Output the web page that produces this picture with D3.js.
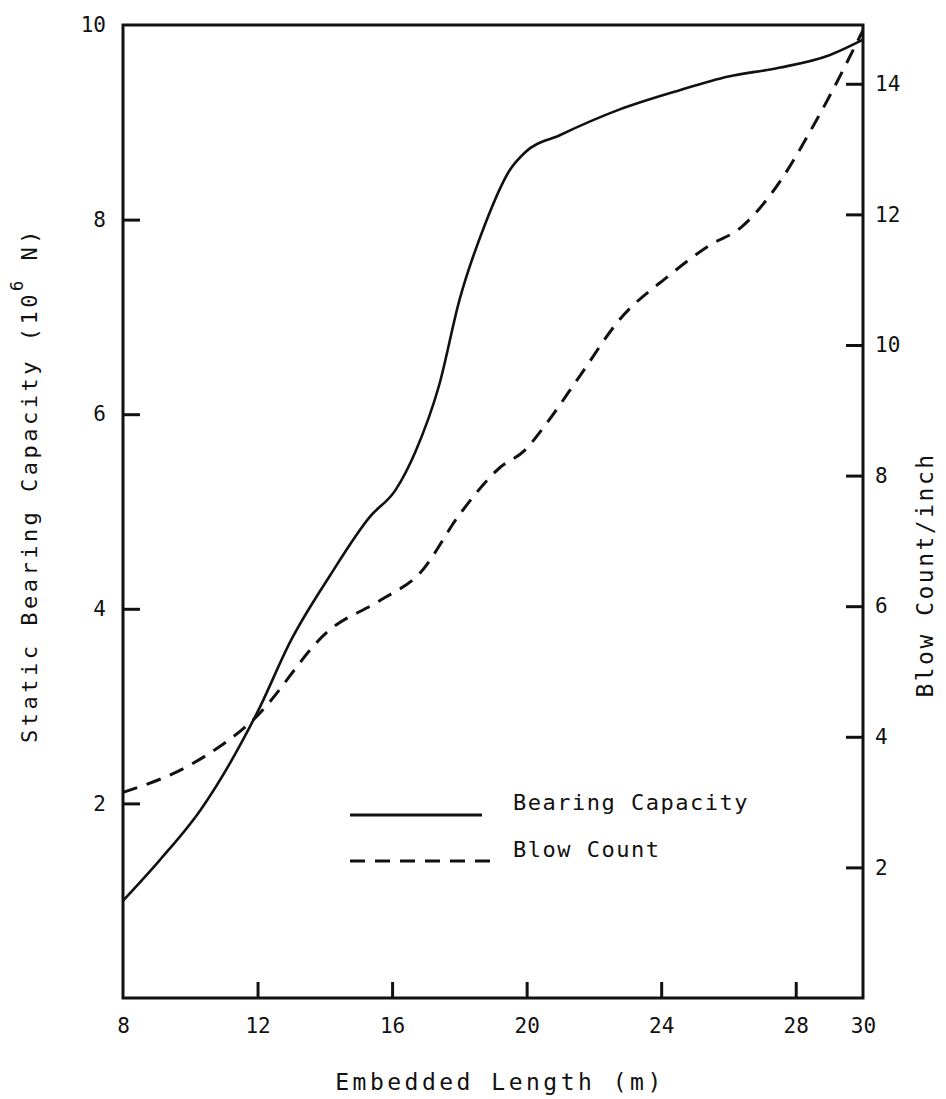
<!DOCTYPE html>
<html>
<head>
<meta charset="utf-8">
<script src="https://cdn.jsdelivr.net/npm/d3@7"></script>
<style>
  body { margin: 0; background: #fff; }
  text { font-family: "DejaVu Sans Mono", monospace; fill: #111; }
</style>
</head>
<body>
<div id="chart"></div>
<script>
// embedded length (m) and static bearing capacity (10^6 N)
const capLength = [8, 9.1, 10.3, 12, 13, 14.15, 15.35, 16.1, 16.7, 17.4, 18, 18.75, 19.5, 19.95, 21, 22.75, 24.55, 26, 27.5, 29, 30];
const capacity  = [1.0, 1.42, 1.93, 2.94, 3.68, 4.34, 4.95, 5.22, 5.62, 6.3, 7.17, 7.94, 8.51, 8.69, 8.87, 9.13, 9.33, 9.47, 9.56, 9.69, 9.85];

// embedded length (m) and blow count per inch
const blowLength = [8, 10, 11.87, 14.15, 15.65, 16.85, 18, 19.2, 19.95, 20.55, 21.6, 22.75, 24.25, 25.45, 26.35, 27.25, 28.7, 30];
const blowCount  = [3.15, 3.57, 4.26, 5.64, 6.09, 6.52, 7.4, 8.12, 8.39, 8.77, 9.54, 10.38, 11.07, 11.53, 11.79, 12.3, 13.52, 14.82];

const xTicks = [8, 12, 16, 20, 24, 28, 30];
const leftTicks = [2, 4, 6, 8, 10];
const rightTicks = [2, 4, 6, 8, 10, 12, 14];

const width = 946, height = 1099;
const margin = {top: 25, right: 83, bottom: 101, left: 123};

const svg = d3.select("#chart").append("svg")
    .attr("width", width)
    .attr("height", height);

const x = d3.scaleLinear().domain([8, 30]).range([margin.left, width - margin.right]);
const yLeft = d3.scaleLinear().domain([0, 10]).range([height - margin.bottom, margin.top]);
const yRight = d3.scaleLinear().domain([0, 14.9]).range([height - margin.bottom, margin.top]);

// frame
svg.append("rect")
    .attr("x", margin.left)
    .attr("y", margin.top)
    .attr("width", width - margin.left - margin.right)
    .attr("height", height - margin.bottom - margin.top)
    .attr("fill", "none")
    .attr("stroke", "#111")
    .attr("stroke-width", 3);

// axes, ticks pointing into the plot
const xAxis = svg.append("g")
    .attr("transform", "translate(0," + (height - margin.bottom) + ")")
    .call(d3.axisBottom(x).tickValues(xTicks).tickSize(-16).tickPadding(20).tickFormat(d3.format("d")));

const leftAxis = svg.append("g")
    .attr("transform", "translate(" + margin.left + ",0)")
    .call(d3.axisLeft(yLeft).tickValues(leftTicks).tickSize(-17).tickPadding(17).tickFormat(d3.format("d")));

const rightAxis = svg.append("g")
    .attr("transform", "translate(" + (width - margin.right) + ",0)")
    .call(d3.axisRight(yRight).tickValues(rightTicks).tickSize(-17).tickPadding(12).tickFormat(d3.format("d")));

[xAxis, leftAxis, rightAxis].forEach(a => {
  a.select(".domain").remove();
  a.selectAll(".tick line").attr("stroke", "#111").attr("stroke-width", 3);
  a.selectAll(".tick text")
    .style("font-family", "DejaVu Sans Mono")
    .style("font-size", "21px")
    .attr("fill", "#111");
});
// end ticks sit on the corners, hide their marks
xAxis.selectAll(".tick line").filter(d => d === 8 || d === 30).remove();
leftAxis.selectAll(".tick line").filter(d => d === 10).remove();

// lines
const capLine = d3.line()
    .x((d, i) => x(capLength[i]))
    .y(d => yLeft(d))
    .curve(d3.curveMonotoneX);

const blowLine = d3.line()
    .x((d, i) => x(blowLength[i]))
    .y(d => yRight(d))
    .curve(d3.curveMonotoneX);

svg.append("path")
    .attr("d", capLine(capacity))
    .attr("fill", "none")
    .attr("stroke", "#111")
    .attr("stroke-width", 2.6);

svg.append("path")
    .attr("d", blowLine(blowCount))
    .attr("fill", "none")
    .attr("stroke", "#111")
    .attr("stroke-width", 3)
    .attr("stroke-dasharray", "15,10");

// legend
const legend = svg.append("g");
legend.append("line")
    .attr("x1", 350).attr("x2", 482)
    .attr("y1", 815).attr("y2", 815)
    .attr("stroke", "#111").attr("stroke-width", 3);
legend.append("text")
    .attr("x", 513).attr("y", 810)
    .style("font-size", "22px")
    .style("letter-spacing", "1.5px")
    .text("Bearing Capacity");
legend.append("line")
    .attr("x1", 350).attr("x2", 492)
    .attr("y1", 861).attr("y2", 861)
    .attr("stroke", "#111").attr("stroke-width", 3)
    .attr("stroke-dasharray", "15,10");
legend.append("text")
    .attr("x", 513).attr("y", 857)
    .style("font-size", "22px")
    .style("letter-spacing", "1.5px")
    .text("Blow Count");

// axis titles
svg.append("text")
    .attr("x", 500).attr("y", 1090)
    .attr("text-anchor", "middle")
    .style("font-size", "23px")
    .style("letter-spacing", "3.5px")
    .text("Embedded Length (m)");

const yTitle = svg.append("text")
    .attr("transform", "translate(37,485) rotate(-90)")
    .attr("text-anchor", "middle")
    .style("font-size", "22px")
    .style("letter-spacing", "3.5px");
yTitle.append("tspan").text("Static Bearing Capacity (10");
yTitle.append("tspan").attr("dy", -14).style("font-size", "17px").text("6");
yTitle.append("tspan").attr("dy", 14).text(" N)");

svg.append("text")
    .attr("transform", "translate(933,575) rotate(-90)")
    .attr("text-anchor", "middle")
    .style("font-size", "23px")
    .style("letter-spacing", "2.5px")
    .text("Blow Count/inch");
</script>
</body>
</html>
